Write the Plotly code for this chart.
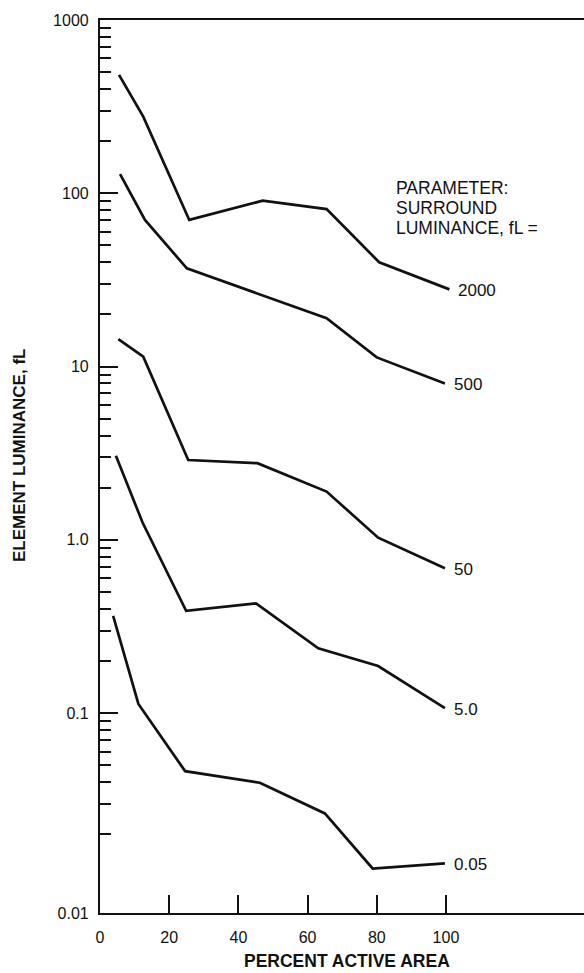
import numpy as np
import plotly.graph_objects as go

# Element luminance (fL) vs percent active area, one curve per surround luminance
surround_labels = ["2000", "500", "50", "5.0", "0.05"]

x_2000 = [5.5, 12.5, 25.8, 47.0, 65.5, 80.7, 101.0]
y_2000 = [482, 277, 70.2, 90.6, 81.1, 40.0, 27.9]

x_500 = [5.8, 13.0, 25.1, 65.5, 80.0, 99.7]
y_500 = [129, 70.2, 36.9, 19.0, 11.3, 8.0]

x_50 = [5.3, 12.5, 25.5, 45.5, 65.5, 80.4, 99.7]
y_50 = [14.4, 11.4, 2.89, 2.77, 1.90, 1.03, 0.686]

x_5 = [4.6, 12.3, 24.9, 45.1, 63.1, 80.4, 99.7]
y_5 = [3.06, 1.26, 0.390, 0.430, 0.237, 0.187, 0.107]

x_005 = [3.8, 11.1, 24.6, 46.2, 65.0, 78.8, 99.7]
y_005 = [0.364, 0.113, 0.0463, 0.0397, 0.0264, 0.0127, 0.0136]

x_ticks = [0, 20, 40, 60, 80, 100]
y_major = [1000, 100, 10, 1.0, 0.1]
y_major_text = ["1000", "100", "10", "1.0", "0.1"]
bottom_label = "0.01"

series = [(x_2000, y_2000), (x_500, y_500), (x_50, y_50), (x_5, y_5), (x_005, y_005)]

# layout geometry
W, H = 584, 973
ML, MR, MT, MB = 100, 0, 20, 60
PW, PH = W - ML - MR, H - MT - MB
X_MAX = 139.9
LOG_MIN, LOG_MAX = -2.153, 3.0

FONT = "Liberation Sans, Arial, Helvetica, sans-serif"
INK = "#111111"


def px_to_paper(px, py):
    return (px - ML) / PW, 1 - (py - MT) / PH


fig = go.Figure()
for (xs, ys) in series:
    fig.add_trace(go.Scatter(x=xs, y=ys, mode="lines",
                             line=dict(color=INK, width=2.7),
                             showlegend=False, hoverinfo="skip"))

# curve labels at the right-hand end of each line
for (xs, ys), lab in zip(series, surround_labels):
    fig.add_annotation(x=xs[-1], y=np.log10(ys[-1]), xref="x", yref="y",
                       text=lab, showarrow=False, xanchor="left", yanchor="middle",
                       xshift=7, yshift=-1,
                       font=dict(family=FONT, size=17, color=INK))

# parameter legend text
for text, py in [("PARAMETER:", 188), ("SURROUND", 208), ("LUMINANCE, fL =", 228)]:
    ax, ay = px_to_paper(394, py)
    fig.add_annotation(x=ax, y=ay, xref="paper", yref="paper", text=text,
                       showarrow=False, xanchor="left", yanchor="middle",
                       font=dict(family=FONT, size=17.5, color=INK))

# axis titles
tx, ty = px_to_paper(19, 456)
fig.add_annotation(x=tx, y=ty, xref="paper", yref="paper",
                   text="ELEMENT LUMINANCE, fL", textangle=-90, showarrow=False,
                   xanchor="center", yanchor="middle",
                   font=dict(family=FONT, size=17, color=INK, weight="bold"))
bx, by = px_to_paper(347, 961)
fig.add_annotation(x=bx, y=by, xref="paper", yref="paper",
                   text="PERCENT ACTIVE AREA", showarrow=False,
                   xanchor="center", yanchor="middle", borderpad=0,
                   font=dict(family=FONT, size=17.5, color=INK, weight="bold"))

# minor tick positions between decades
minor_vals = [m * 10.0 ** e for e in range(-2, 3) for m in range(2, 10)]

fig.update_xaxes(range=[0, X_MAX], showgrid=False, zeroline=False,
                 showline=True, linecolor=INK, linewidth=2.2, mirror=True,
                 tickvals=x_ticks, ticktext=[str(v) for v in x_ticks],
                 ticks="inside", ticklen=18, tickwidth=1.8, tickcolor=INK,
                 ticklabelstandoff=9,
                 tickfont=dict(family=FONT, size=16, color=INK))

fig.update_yaxes(type="log", range=[LOG_MIN, LOG_MAX], showgrid=False, zeroline=False,
                 showline=True, linecolor=INK, linewidth=2.2,
                 tickvals=y_major + [10 ** LOG_MIN],
                 ticktext=y_major_text + [bottom_label],
                 ticks="inside", ticklen=18, tickwidth=2, tickcolor=INK,
                 ticklabelstandoff=6,
                 tickfont=dict(family=FONT, size=16, color=INK),
                 minor=dict(tickvals=minor_vals, ticks="inside", ticklen=11,
                            tickwidth=1.6, tickcolor=INK, showgrid=False))

fig.update_layout(width=W, height=H,
                  margin=dict(l=ML, r=MR, t=MT, b=MB, pad=0),
                  paper_bgcolor="white", plot_bgcolor="white",
                  showlegend=False)

fig.write_html("out.html")
